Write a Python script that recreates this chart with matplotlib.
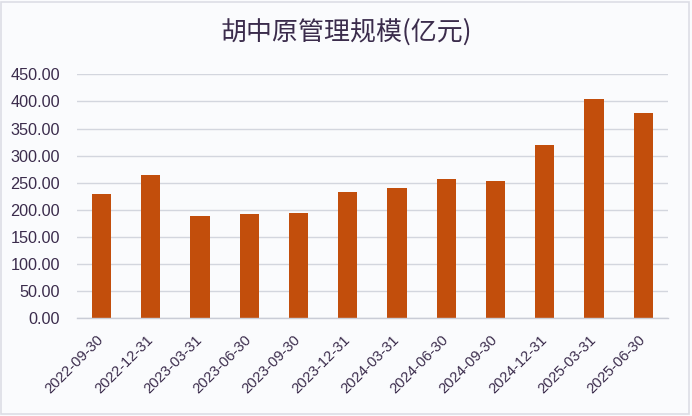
import matplotlib
matplotlib.use("Agg")
import matplotlib.pyplot as plt
from matplotlib.patches import Rectangle

dates = ["2022-09-30", "2022-12-31", "2023-03-31", "2023-06-30", "2023-09-30",
         "2023-12-31", "2024-03-31", "2024-06-30", "2024-09-30", "2024-12-31",
         "2025-03-31", "2025-06-30"]
values = [230, 264, 188, 192, 194, 232, 241, 256, 253, 320, 405, 378]
yticks = [0, 50, 100, 150, 200, 250, 300, 350, 400, 450]
title = "胡中原管理规模(亿元)"

plt.rcParams['font.family'] = ['Noto Sans CJK SC', 'DejaVu Sans']
txt = "#3b2c4c"
bg = "#fafbfd"

fig = plt.figure(figsize=(6.92, 4.16), dpi=100, facecolor=bg)
ax = fig.add_axes([0.111, 0.2349, 0.854, 0.5865])
ax.set_facecolor(bg)
x = list(range(len(dates)))
ax.bar(x, values, width=0.39, color="#c24e0c", zorder=3)
ax.set_xlim(-0.5, len(dates) - 0.5)
ax.set_ylim(0, 450)
ax.set_yticks(yticks)
ax.set_yticklabels([f"{v:.2f}" for v in yticks], fontsize=11.7, color=txt,
                   family=['Liberation Sans', 'DejaVu Sans'])
ax.set_xticks(x)
ax.set_xticklabels(dates, rotation=45, ha="right", va="center", rotation_mode="anchor",
                   fontsize=10.6, color=txt, family=['Liberation Sans', 'DejaVu Sans'])
ax.tick_params(axis='y', length=0, pad=12)
ax.tick_params(axis='x', length=0, pad=14)
ax.yaxis.grid(True, color="#d3d6de", linewidth=1.0, zorder=0)
for s in ["top", "right", "left"]:
    ax.spines[s].set_visible(False)
ax.spines["bottom"].set_color("#c9ccd6")
ax.spines["bottom"].set_linewidth(1.0)
ax.spines["bottom"].set_zorder(4)

fig.text(0.5, 0.922, title, ha="center", va="center", fontsize=18.7, color=txt,
         fontweight="light")
fig.patches.append(Rectangle((0.002, 0.004), 0.994, 0.99, transform=fig.transFigure,
                             fill=False, edgecolor="#dcdee5", linewidth=1.2))

fig.savefig("out.png", dpi=100, facecolor=bg)
